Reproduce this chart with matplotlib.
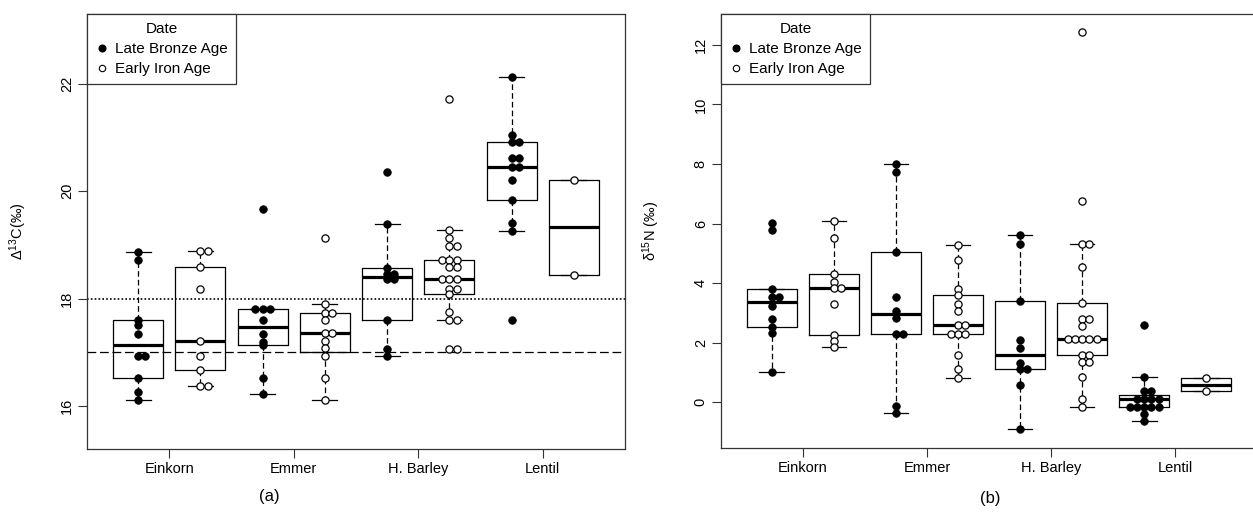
import math
from collections import Counter

import matplotlib
matplotlib.use("Agg")
import matplotlib.pyplot as plt
from matplotlib.lines import Line2D

plt.rcParams['font.family'] = ['Liberation Sans', 'DejaVu Sans']
plt.rcParams['mathtext.fontset'] = 'custom'
plt.rcParams['mathtext.rm'] = 'Liberation Sans'

crops = ["Einkorn", "Emmer", "H. Barley", "Lentil"]
periods = ["Late Bronze Age", "Early Iron Age"]

# values, one list per crop
d13c_bronze = [
    [18.86, 18.72, 17.61, 17.50, 17.35, 16.93, 16.93, 16.53, 16.26, 16.12],
    [19.67, 17.80, 17.80, 17.80, 17.61, 17.35, 17.20, 17.13, 16.53, 16.22],
    [20.35, 19.39, 18.57, 18.46, 18.46, 18.36, 18.36, 17.61, 17.07, 16.94],
    [22.13, 21.04, 20.91, 20.91, 20.62, 20.62, 20.45, 20.45, 20.21, 19.84,
     19.40, 19.26, 17.61],
]
d13c_iron = [
    [18.88, 18.88, 18.58, 18.17, 17.22, 16.93, 16.68, 16.38, 16.38],
    [19.12, 17.90, 17.74, 17.74, 17.61, 17.36, 17.36, 17.21, 17.08, 16.94,
     16.53, 16.12],
    [21.72, 19.28, 19.12, 18.98, 18.98, 18.72, 18.72, 18.72, 18.58, 18.58,
     18.36, 18.36, 18.36, 18.17, 18.17, 18.09, 17.75, 17.61, 17.61, 17.07, 17.07],
    [20.21, 18.44],
]
d15n_bronze = [
    [6.01, 5.78, 3.80, 3.54, 3.54, 3.22, 2.81, 2.52, 2.31, 1.02],
    [8.00, 7.73, 5.04, 3.54, 3.06, 2.83, 2.28, 2.28, -0.13, -0.35],
    [5.62, 5.33, 3.40, 2.08, 1.83, 1.33, 1.12, 1.12, 0.59, -0.89],
    [2.58, 0.83, 0.38, 0.38, 0.10, 0.10, 0.10, 0.10, -0.16, -0.16, -0.16,
     -0.16, -0.16, -0.39, -0.63],
]
d15n_iron = [
    [6.07, 5.52, 4.30, 4.04, 3.85, 3.85, 3.31, 2.24, 2.06, 1.84],
    [5.28, 4.77, 3.79, 3.60, 3.29, 3.06, 2.58, 2.58, 2.28, 2.28, 2.28, 1.58,
     1.10, 0.80],
    [12.44, 6.75, 5.33, 5.33, 4.53, 3.32, 2.79, 2.79, 2.57, 2.12, 2.12, 2.12,
     2.12, 2.12, 1.59, 1.59, 1.34, 1.34, 0.84, 0.11, -0.15],
    [0.80, 0.38],
]


def box_stats(vals):
    # R style fivenum hinges and 1.5 IQR whiskers
    v = sorted(vals)
    n = len(v)
    n4 = math.floor((n + 3) / 2) / 2
    d = [1, n4, (n + 1) / 2, n + 1 - n4, n]
    f = [0.5 * (v[math.floor(x) - 1] + v[math.ceil(x) - 1]) for x in d]
    iqr = f[3] - f[1]
    lo = min(x for x in v if x >= f[1] - 1.5 * iqr)
    hi = max(x for x in v if x <= f[3] + 1.5 * iqr)
    return dict(med=f[2], q1=f[1], q3=f[3], whislo=lo, whishi=hi, fliers=[])


def swarm(vals, center, step=0.117):
    counts = Counter(vals)
    seen = {}
    xs = []
    for v in vals:
        k = counts[v]
        i = seen.get(v, 0)
        seen[v] = i + 1
        xs.append(center + (-((k - 1) // 2) + i) * step)
    return xs


def panel(ax, bronze, iron, ylim, yticks, ylabel):
    stats, pos = [], []
    for i in range(len(crops)):
        stats += [box_stats(bronze[i]), box_stats(iron[i])]
        pos += [1 + 2 * i, 2 + 2 * i]
    ax.bxp(stats, positions=pos, widths=0.8, capwidths=0.4, showfliers=False,
           boxprops=dict(color='black', lw=0.9),
           medianprops=dict(color='black', lw=2.3),
           whiskerprops=dict(color='black', lw=0.9, linestyle=(0, (4.5, 2.5))),
           capprops=dict(color='black', lw=0.9))
    for i in range(len(crops)):
        ax.plot(swarm(bronze[i], 1 + 2 * i), bronze[i], 'o', ms=5.4,
                mfc='black', mec='black', mew=0.6, zorder=5)
        ax.plot(swarm(iron[i], 2 + 2 * i), iron[i], 'o', ms=5.2,
                mfc='white', mec='black', mew=0.9, zorder=5)
    ax.set_xlim(0.18, 8.82)
    ax.set_ylim(*ylim)
    ax.set_xticks([1.5, 3.5, 5.5, 7.5])
    ax.set_xticklabels(crops, fontsize=10.5)
    ax.set_yticks(yticks)
    ax.set_yticklabels([str(t) for t in yticks], fontsize=10.5, rotation=90,
                       va='center')
    ax.tick_params(direction='out', length=6.5, width=0.8, color='#333333',
                   pad=3)
    for s in ax.spines.values():
        s.set_color('#333333')
        s.set_linewidth(0.9)
    ax.set_ylabel(ylabel, fontsize=10.5)
    handles = [Line2D([], [], ls='none', marker='o', ms=4.8, mfc='black',
                      mec='black'),
               Line2D([], [], ls='none', marker='o', ms=4.6, mfc='white',
                      mec='black', mew=0.8)]
    leg = ax.legend(handles, periods, title='Date', loc='upper left',
                    bbox_to_anchor=(0, 1), borderaxespad=0, fancybox=False,
                    edgecolor='#333333', framealpha=1, fontsize=11,
                    title_fontsize=11, handlelength=0.9, handletextpad=0.4,
                    labelspacing=0.38, borderpad=0.55)
    leg.get_frame().set_linewidth(0.9)


fig = plt.figure(figsize=(12.53, 5.12), dpi=100)
ax1 = fig.add_axes([87 / 1253, 1 - 449 / 512, 538 / 1253, 435 / 512])
ax2 = fig.add_axes([721 / 1253, 1 - 448 / 512, 536 / 1253, 434 / 512])

ax1.axhline(18, color='black', lw=1.2, linestyle=(0, (1, 1.3)), zorder=1)
ax1.axhline(17, color='black', lw=0.9, linestyle=(0, (7, 3)), zorder=1)
panel(ax1, d13c_bronze, d13c_iron, (15.2, 23.3), [16, 18, 20, 22],
      r'$\mathregular{\Delta^{13}}$C(‰)')
panel(ax2, d15n_bronze, d15n_iron, (-1.54, 13.04), [0, 2, 4, 6, 8, 10, 12],
      r'$\mathregular{\delta^{15}}$N (‰)')
ax1.yaxis.set_label_coords(-0.108, 0.5)
ax2.yaxis.set_label_coords(-0.110, 0.5)

fig.text(269 / 1253, 1 - 496 / 512, '(a)', ha='center', va='center', fontsize=12)
fig.text(990 / 1253, 1 - 498 / 512, '(b)', ha='center', va='center', fontsize=12)

fig.savefig('out.png', dpi=100)
